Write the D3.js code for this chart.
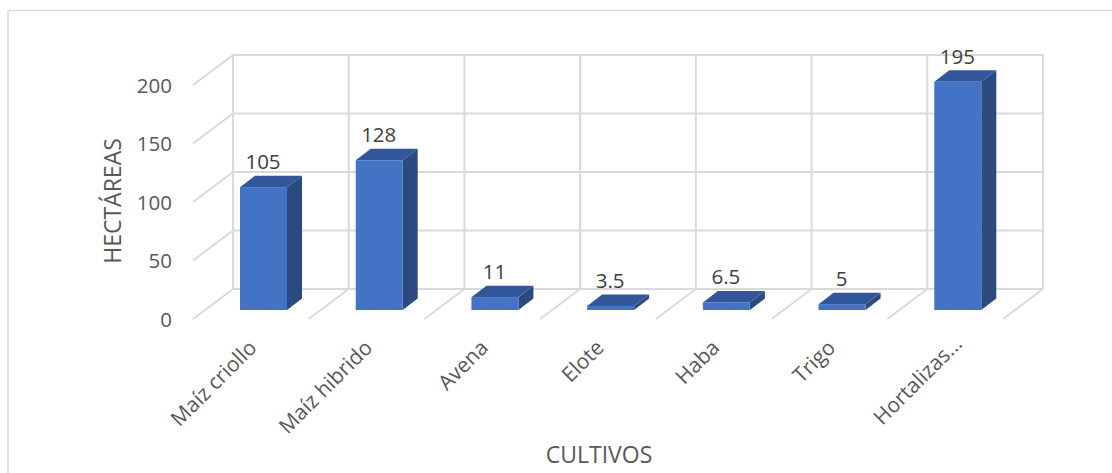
<!DOCTYPE html>
<html><head><meta charset="utf-8">
<script src="https://cdn.jsdelivr.net/npm/d3@7/dist/d3.min.js"></script>
<style>html,body{margin:0;padding:0;background:#fff}svg{display:block}text{font-family:"Open Sans",sans-serif}</style>
</head><body><svg id="c" width="1112" height="473"></svg>
<script>
const categories = ["Maíz criollo","Maíz hibrido","Avena","Elote","Haba","Trigo","Hortalizas..."];
const values = [105,128,11,3.5,6.5,5,195];
const yTicks = [0,50,100,150,200];
const xTitle = "CULTIVOS";
const yTitle = "HECTÁREAS";

const svg = d3.select("#c");
const W = {l:233,r:1043,t:55,b:289};
const depth = {x:-40,y:30};
const barDepth = {x:15,y:-11.5};
const grid = "#dadada", ink = "#595959";

svg.append("path").attr("d","M8,473V10.5H1112").attr("fill","none").attr("stroke","#dcdcdc").attr("stroke-width",1.6);

const y = d3.scaleLinear().domain([0,200]).range([W.b,W.t]);
const x = d3.scaleBand().domain(categories).range([W.l,W.r]);
const g = svg.append("g").attr("fill","none").attr("stroke",grid).attr("stroke-width",2);

yTicks.forEach(t=>{
  g.append("line").attr("x1",W.l).attr("x2",W.r).attr("y1",y(t)).attr("y2",y(t));
  g.append("line").attr("x1",W.l).attr("x2",W.l+depth.x).attr("y1",y(t)).attr("y2",y(t)+depth.y);
});
const xEdges = categories.map(c=>x(c)).concat([W.r]);
xEdges.forEach(e=>{
  g.append("line").attr("x1",e).attr("x2",e).attr("y1",W.t).attr("y2",W.b);
  if(e>W.l) g.append("line").attr("x1",e).attr("x2",e+depth.x).attr("y1",W.b).attr("y2",W.b+depth.y);
});

const base = 310, unit = (W.b-W.t)/200;
const bw = 47, off = 7;
const bars = svg.append("g").selectAll("g").data(categories).join("g");
const frontX = c=>x(c)+off;
const topY = (c,i)=>base-values[i]*unit;
bars.append("path").attr("fill","#2b4a80").attr("d",(c,i)=>{
  const a=frontX(c)+bw,t=topY(c,i);
  return `M${a},${t}L${a+barDepth.x},${t+barDepth.y}V${base+barDepth.y}L${a},${base}Z`;
});
bars.append("path").attr("fill","#31569a").attr("d",(c,i)=>{
  const a=frontX(c),t=topY(c,i);
  return `M${a},${t}L${a+barDepth.x},${t+barDepth.y}H${a+bw+barDepth.x}L${a+bw},${t}Z`;
});
bars.append("rect").attr("fill","#4472c4").attr("x",frontX).attr("y",topY).attr("width",bw)
  .attr("height",(c,i)=>base-topY(c,i));
bars.append("text").attr("x",c=>frontX(c)+bw/2-0.5).attr("y",(c,i)=>topY(c,i)-18)
  .attr("text-anchor","middle").attr("font-size",20.5).attr("fill","#404040")
  .text((c,i)=>values[i]);

svg.append("g").selectAll("text").data(yTicks).join("text")
  .attr("x",172).attr("y",t=>y(t)+37.5).attr("text-anchor","end").attr("font-size",20.5).attr("fill",ink).text(t=>t);

svg.append("g").selectAll("text").data(categories).join("text")
  .attr("transform",(c,i)=>`translate(${x(c)+25+(i===categories.length-1?11:0)},${349+(i===categories.length-1?-4:0)}) rotate(-45)`)
  .attr("text-anchor","end").attr("font-size",21).attr("fill",ink).text(c=>c);

svg.append("text").attr("x",599).attr("y",463).attr("text-anchor","middle").attr("font-size",23).attr("fill",ink).text(xTitle);
svg.append("text").attr("transform","translate(121,201) rotate(-90)").attr("text-anchor","middle").attr("font-size",23).attr("fill",ink).text(yTitle);
</script></body></html>
